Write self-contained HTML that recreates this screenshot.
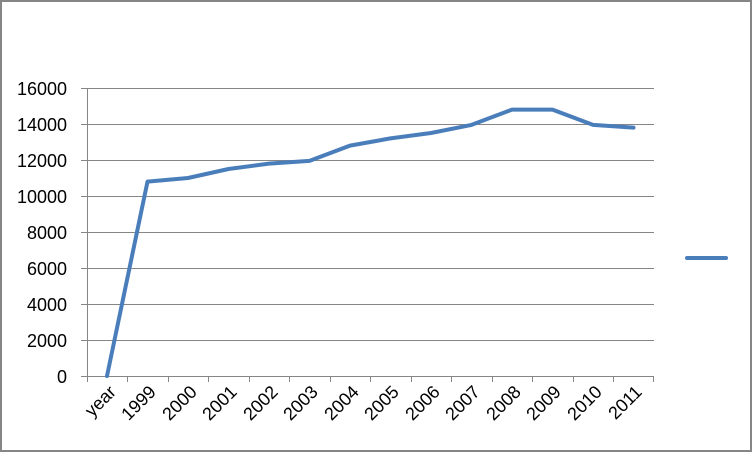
<!DOCTYPE html>
<html><head><meta charset="utf-8"><style>html,body{margin:0;padding:0;background:#fff}</style></head>
<body>
<svg width="752" height="452" xmlns="http://www.w3.org/2000/svg" font-family="Liberation Sans, sans-serif" font-size="18">
<rect x="1" y="1" width="750" height="450" fill="#fff" stroke="#868686" stroke-width="2"/>
<g stroke="#868686" stroke-width="1">
<line x1="81" y1="88.5" x2="654" y2="88.5"/>
<line x1="81" y1="124.5" x2="654" y2="124.5"/>
<line x1="81" y1="160.5" x2="654" y2="160.5"/>
<line x1="81" y1="196.5" x2="654" y2="196.5"/>
<line x1="81" y1="232.5" x2="654" y2="232.5"/>
<line x1="81" y1="268.5" x2="654" y2="268.5"/>
<line x1="81" y1="304.5" x2="654" y2="304.5"/>
<line x1="81" y1="340.5" x2="654" y2="340.5"/>
<line x1="81" y1="376.5" x2="654" y2="376.5"/>
<line x1="87.5" y1="88" x2="87.5" y2="382"/>
<line x1="127.5" y1="376" x2="127.5" y2="382"/>
<line x1="168.5" y1="376" x2="168.5" y2="382"/>
<line x1="208.5" y1="376" x2="208.5" y2="382"/>
<line x1="249.5" y1="376" x2="249.5" y2="382"/>
<line x1="289.5" y1="376" x2="289.5" y2="382"/>
<line x1="330.5" y1="376" x2="330.5" y2="382"/>
<line x1="370.5" y1="376" x2="370.5" y2="382"/>
<line x1="411.5" y1="376" x2="411.5" y2="382"/>
<line x1="451.5" y1="376" x2="451.5" y2="382"/>
<line x1="492.5" y1="376" x2="492.5" y2="382"/>
<line x1="532.5" y1="376" x2="532.5" y2="382"/>
<line x1="573.5" y1="376" x2="573.5" y2="382"/>
<line x1="613.5" y1="376" x2="613.5" y2="382"/>
<line x1="653.5" y1="376" x2="653.5" y2="382"/>
</g>
<g text-anchor="end" fill="#000">
<text x="67" y="95">16000</text>
<text x="67" y="131">14000</text>
<text x="67" y="167">12000</text>
<text x="67" y="203">10000</text>
<text x="67" y="239">8000</text>
<text x="67" y="275">6000</text>
<text x="67" y="311">4000</text>
<text x="67" y="347">2000</text>
<text x="67" y="383">0</text>
</g>
<g text-anchor="end" fill="#000">
<text transform="translate(117,393) rotate(-45)">year</text>
<text transform="translate(157,393) rotate(-45)">1999</text>
<text transform="translate(198,393) rotate(-45)">2000</text>
<text transform="translate(238,393) rotate(-45)">2001</text>
<text transform="translate(279,393) rotate(-45)">2002</text>
<text transform="translate(319,393) rotate(-45)">2003</text>
<text transform="translate(360,393) rotate(-45)">2004</text>
<text transform="translate(400,393) rotate(-45)">2005</text>
<text transform="translate(441,393) rotate(-45)">2006</text>
<text transform="translate(481,393) rotate(-45)">2007</text>
<text transform="translate(522,393) rotate(-45)">2008</text>
<text transform="translate(562,393) rotate(-45)">2009</text>
<text transform="translate(603,393) rotate(-45)">2010</text>
<text transform="translate(643,393) rotate(-45)">2011</text>
</g>
<polyline fill="none" stroke="#4a7ebb" stroke-width="4" stroke-linejoin="round" stroke-linecap="round"
points="107,376 147.5,181.6 188,178 228.5,169 269,163.6 309.5,160.9 350,145.6 390.5,138.4 431,133 471.5,124.9 512,109.6 552.5,109.6 593,124.9 633.5,127.6"/>
<line x1="687" y1="258" x2="726" y2="258" stroke="#4a7ebb" stroke-width="4" stroke-linecap="round"/>
</svg>
</body></html>
